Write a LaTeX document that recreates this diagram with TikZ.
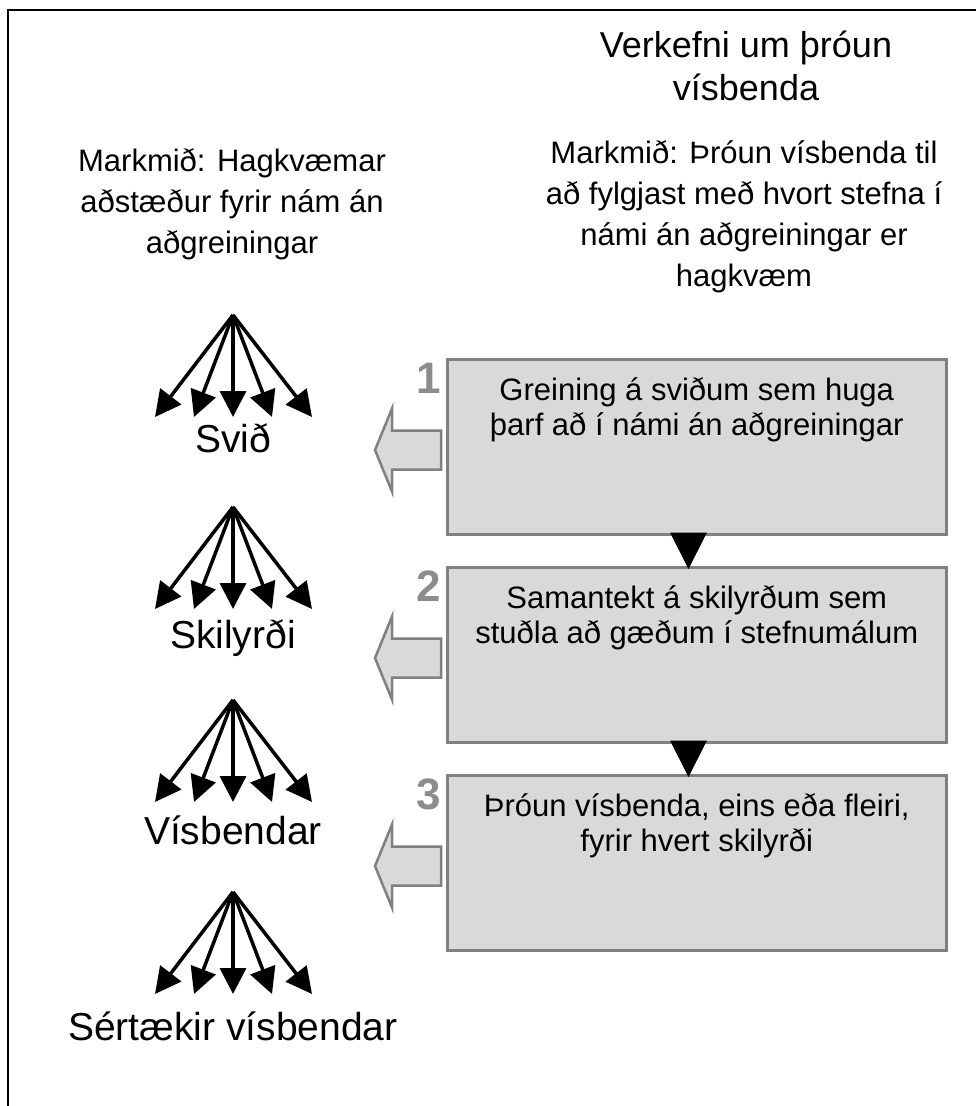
\documentclass[tikz,border=0pt]{standalone}
\usepackage{fontspec}
\setmainfont{Liberation Sans}
\usetikzlibrary{arrows.meta,calc}
\definecolor{boxfill}{HTML}{D9D9D9}
\definecolor{boxline}{HTML}{808080}
\definecolor{numgray}{HTML}{8C8C8C}
\begin{document}
\begin{tikzpicture}[x=1pt,y=-1pt,
  stepbox/.style={draw=boxline, fill=boxfill, line width=2.5pt, minimum width=499pt, minimum height=175pt, anchor=north west, inner sep=0pt},
  boxtext/.style={font=\fontsize{31}{35}\selectfont, align=center, anchor=north, inner sep=0pt},
  numlab/.style={font=\fontsize{44}{44}\selectfont\bfseries, text=numgray, anchor=east, inner sep=0pt},
  hollow/.style={draw=boxline, fill=boxfill, line width=2.5pt, line join=miter},
  tri/.style={fill=black, draw=none},
  fanarrow/.style={line width=3.5pt, -{Triangle[length=26pt,width=26pt]}},
  lab/.style={font=\fontsize{39}{39}\selectfont, anchor=base, inner sep=0pt},
  head/.style={font=\fontsize{31}{41}\selectfont, align=center, anchor=north, inner sep=0pt},
  title/.style={font=\fontsize{36}{43}\selectfont, align=center, anchor=north, inner sep=0pt}
]
\useasboundingbox (0,0) rectangle (976,1106);
\clip (0,0) rectangle (976,1106);
% outer frame
\draw[line width=2pt] (8,1120) -- (8,10) -- (990,10);

% top texts
\node[title] (title) at (746,31) {Verkefni um þróun\\vísbenda};
\node[head] (goalR) at (744,140) {Markmið: Þróun vísbenda til\\að fylgjast með hvort stefna í\\námi án aðgreiningar er\\hagkvæm};
\node[head] (goalL) at (232,148) {Markmið: Hagkvæmar\\aðstæður fyrir nám án\\aðgreiningar};

% boxes
\node[stepbox] (b1) at (446,358) {};
\node[stepbox] (b2) at (446,566) {};
\node[stepbox] (b3) at (446,774) {};
\node[boxtext] (t1) at ($(b1.north)+(0,19)$) {Greining á sviðum sem huga\\þarf að í námi án aðgreiningar};
\node[boxtext] (t2) at ($(b2.north)+(0,19)$) {Samantekt á skilyrðum sem\\stuðla að gæðum í stefnumálum};
\node[boxtext] (t3) at ($(b3.north)+(0,19)$) {Þróun vísbenda, eins eða fleiri,\\fyrir hvert skilyrði};

% numbers
\node[numlab] (n1) at ($(b1.north west)+(-5,20)$) {1};
\node[numlab] (n2) at ($(b2.north west)+(-5,20)$) {2};
\node[numlab] (n3) at ($(b3.north west)+(-5,20)$) {3};

% black triangles between boxes
\foreach \a/\b in {b1/b2,b2/b3}{
  \fill[tri] ($(\a.south west)+(224,-3)$) -- ($(\a.south west)+(261,-3)$) -- ($(\b.north west)+(242.5,3)$) -- cycle;
}

% hollow arrows
\foreach \b in {b1,b2,b3}{
  \coordinate (c\b) at ($(\b.north west)+(-5,92)$);
  \draw[hollow] ($(c\b)+(0,-19.5)$) -- ($(c\b)+(-49,-19.5)$) -- ($(c\b)+(-49,-41.5)$)
     -- ($(c\b)+(-66,0)$) -- ($(c\b)+(-49,41.5)$) -- ($(c\b)+(-49,19.5)$) -- ($(c\b)+(0,19.5)$) -- cycle;
}

% fans
\foreach \i/\y/\ly/\txt in {1/315/452/Svið, 2/507/648/Skilyrði, 3/700/844/Vísbendar, 4/892/1040/Sértækir vísbendar}{
  \coordinate (apex\i) at (233,\y);
  \foreach \j/\dx in {1/-78,2/-39,3/0,4/39,5/79}{
    \coordinate (tip\i\j) at ($(apex\i)+(\dx,102)$);
    \draw[fanarrow] (apex\i) -- (tip\i\j);
  }
  \node[lab] (lab\i) at (233,\ly) {\txt};
}
\end{tikzpicture}
\end{document}
